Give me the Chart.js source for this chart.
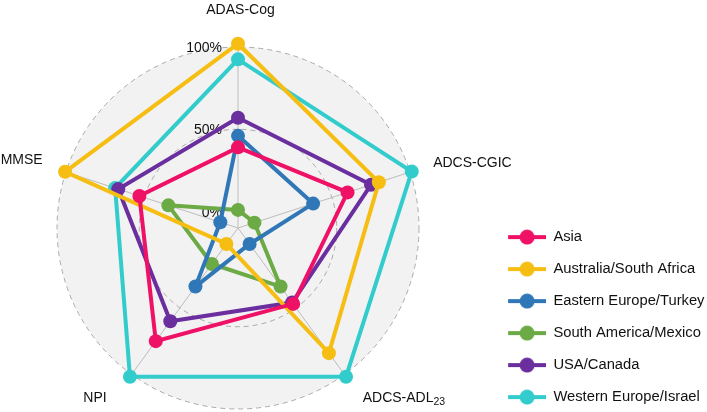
<!DOCTYPE html>
<html>
<head>
<meta charset="utf-8">
<script src="https://cdn.jsdelivr.net/npm/chart.js@4"></script>
<style>
  html, body { margin: 0; padding: 0; background: #ffffff; }
  #wrap { width: 707px; height: 412px; }
</style>
</head>
<body>
<div id="wrap"><canvas id="c" width="707" height="412"></canvas></div>
<script>
// ---- data ----
const categories = ['ADAS-Cog', 'ADCS-CGIC', 'ADCS-ADL_23', 'NPI', 'MMSE'];
const tickValues = [0, 50, 100];
const tickLabels = ['0%', '50%', '100%'];

const seriesNames = ['Asia', 'Australia/South Africa', 'Eastern Europe/Turkey', 'South America/Mexico', 'USA/Canada', 'Western Europe/Israel'];
const asia        = [39, 60, 47, 75, 53];
const australia   = [102, 80, 84, 2, 100.5];
const easternEu   = [46, 38, 2, 34, 1.3];
const southAm     = [1, 0.5, 34, 17, 34.5];
const usaCanada   = [57, 75, 46, 60, 66.5];
const westernEu   = [92.5, 101, 101.7, 101.7, 68.5];

const seriesValues = [asia, australia, easternEu, southAm, usaCanada, westernEu];
const seriesColors = ['#EE1166', '#F6BE12', '#2F77B6', '#6BAA44', '#6B2E9E', '#33CCCC'];

// ---- styling helpers ----
const FONT = '"Liberation Sans", Arial, Helvetica, sans-serif';
Chart.defaults.font.family = FONT;

// label placement relative to each axis end (style, not data)
const labelStyle = [
  { align: 'center', dx: 2.5,  dy: -33 },
  { align: 'left',   dx: 23,   dy: -5.4 },
  { align: 'left',   dx: 18.3, dy: 27.3 },
  { align: 'right',  dx: -25,  dy: 27.6 },
  { align: 'right',  dx: -23.2, dy: -8.1 }
];

const LEG_BOX = 109.75;
function legendSymbol(color) {
  const c = document.createElement('canvas');
  c.width = 110; c.height = 16;
  const g = c.getContext('2d');
  g.strokeStyle = color; g.lineWidth = 4;
  g.beginPath(); g.moveTo(110 - 38, 8); g.lineTo(110, 8); g.stroke();
  g.fillStyle = color;
  g.beginPath(); g.arc(110 - 19, 8, 7.5, 0, Math.PI * 2); g.fill();
  return c;
}

const radarText = {
  id: 'radarText',
  beforeDatasetsDraw(chart) {
    const s = chart.scales.r;
    const ctx = chart.ctx;
    ctx.save();
    ctx.fillStyle = '#111111';
    ctx.textBaseline = 'alphabetic';
    ctx.font = '14px ' + FONT;
    ctx.textAlign = 'right';
    tickValues.forEach((v, i) => {
      const y = s.yCenter - s.getDistanceFromCenterForValue(v);
      ctx.fillText(tickLabels[i], s.xCenter - 16, y + 5);
    });
    const outer = s.getDistanceFromCenterForValue(100);
    categories.forEach((cat, i) => {
      const p = s.getPointPosition(i, outer);
      const st = labelStyle[i];
      const parts = cat.split('_');
      const main = parts[0], sub = parts[1] || '';
      ctx.font = '14px ' + FONT;
      const wMain = ctx.measureText(main).width;
      ctx.font = '10.5px ' + FONT;
      const wSub = sub ? ctx.measureText(sub).width : 0;
      const total = wMain + wSub;
      let x0 = p.x + st.dx;
      if (st.align === 'center') x0 -= total / 2;
      else if (st.align === 'right') x0 -= total;
      const y = p.y + st.dy;
      ctx.textAlign = 'left';
      ctx.font = '14px ' + FONT;
      ctx.fillText(main, x0, y);
      if (sub) {
        ctx.font = '10.5px ' + FONT;
        ctx.fillText(sub, x0 + wMain, y + 3);
      }
    });
    ctx.restore();
  }
};

const datasets = seriesNames.map((name, i) => ({
  label: name,
  data: seriesValues[i],
  borderColor: seriesColors[i],
  backgroundColor: seriesColors[i],
  pointBackgroundColor: seriesColors[i],
  pointBorderColor: seriesColors[i],
  pointBorderWidth: 0,
  pointRadius: 7,
  pointHoverRadius: 7,
  borderWidth: 4,
  fill: false,
  clip: false
}));

new Chart(document.getElementById('c'), {
  type: 'radar',
  data: { labels: categories.map(c => c.replace('_', '')), datasets },
  plugins: [radarText],
  options: {
    responsive: false,
    animation: false,
    events: [],
    layout: { padding: { left: 57, right: 0, top: 45.25, bottom: -9.75 } },
    plugins: {
      tooltip: { enabled: false },
      legend: {
        position: 'right',
        align: 'end',
        maxWidth: 288,
        labels: {
          usePointStyle: true,
          pointStyleWidth: LEG_BOX,
          padding: 17.25,
          color: '#111111',
          font: { size: 14.75, family: FONT },
          generateLabels: (chart) => chart.data.datasets.map((ds, i) => ({
            text: ds.label,
            pointStyle: legendSymbol(ds.borderColor),
            fillStyle: ds.borderColor,
            strokeStyle: ds.borderColor,
            lineWidth: 0,
            hidden: false,
            datasetIndex: i,
            fontColor: '#111111'
          }))
        }
      }
    },
    scales: {
      r: {
        min: -10,
        max: 100,
        startAngle: 0,
        backgroundColor: '#F2F2F2',
        grid: {
          circular: true,
          lineWidth: 1,
          color: (c) => (c.tick && c.tick.value === 0) ? 'rgba(0,0,0,0)' : '#AAAAAA'
        },
        border: { dash: [5, 4] },
        angleLines: { display: true, color: '#BDBDBD', lineWidth: 1 },
        ticks: { display: false, stepSize: 50 },
        pointLabels: { display: false },
        afterBuildTicks: (s) => { s.ticks = tickValues.map(v => ({ value: v })); }
      }
    }
  }
});
</script>
</body>
</html>
